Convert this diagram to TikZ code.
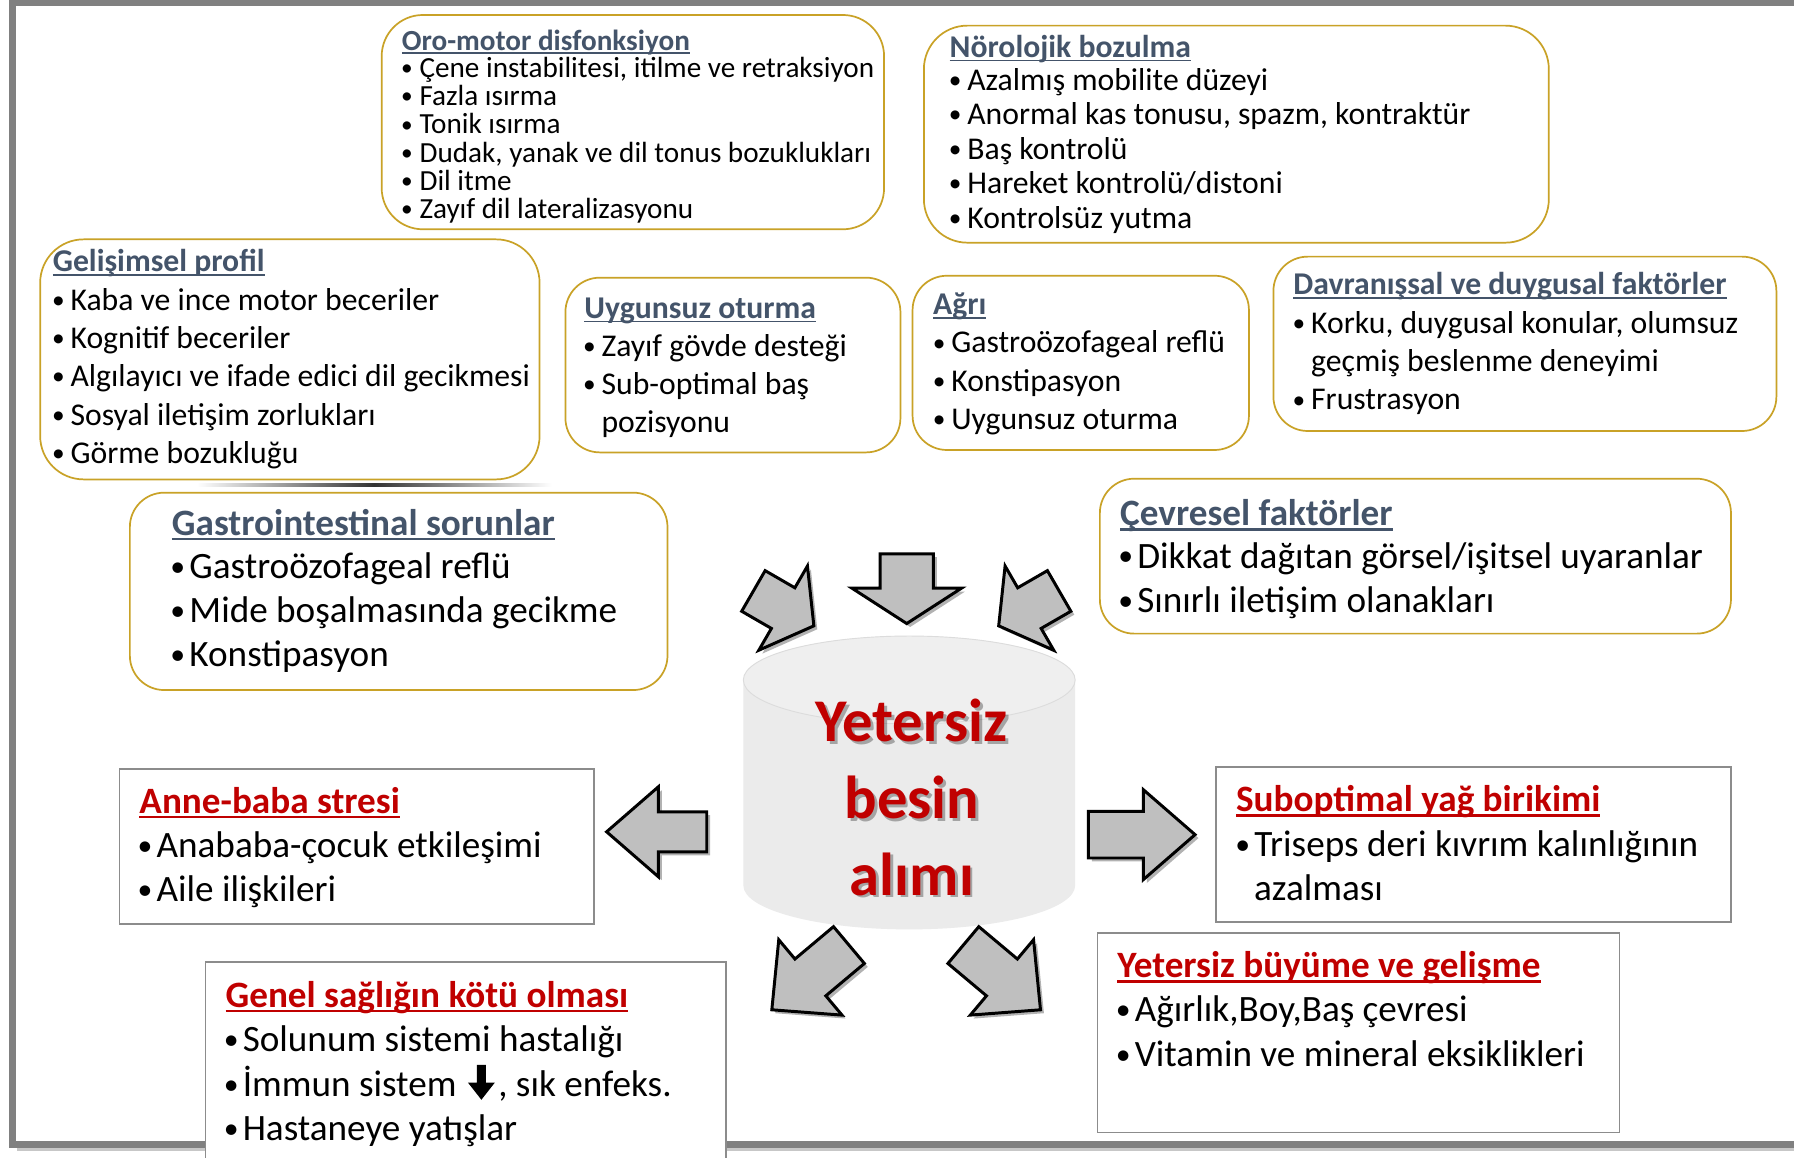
\documentclass[tikz,border=0pt]{standalone}
\usepackage{fontspec}
\setmainfont{Carlito}
\usetikzlibrary{shadows}
\definecolor{goldline}{HTML}{C9A227}
\definecolor{slate}{HTML}{44546A}
\definecolor{darkred}{HTML}{C00000}
\definecolor{boxgray}{HTML}{8C8C8C}
\definecolor{framegray}{HTML}{808080}
\definecolor{arrowfill}{HTML}{BFBFBF}
\definecolor{cylfill}{HTML}{EBEBEB}
\definecolor{cyledge}{HTML}{DCDCDC}
\newcommand\fsOro{\fontsize{25.5}{30}\selectfont}
\newcommand\fsMid{\fontsize{27.7}{33}\selectfont}
\newcommand\fsBig{\fontsize{32.5}{39}\selectfont}
\newcommand\fsCore{\fontsize{53}{64}\selectfont\bfseries}
\newcommand\bul{\makebox[14pt][l]{\hspace*{-0.08em}\raisebox{0.06em}{\scalebox{0.8}{•}}}}
\newcommand\blockarrow[7]{%
  \draw[barrow, shift={(#1,#2)}, rotate=#3]
    (0,#6) -- (#5,#6) -- (#5,#7) -- (#4,0) -- (#5,-#7) -- (#5,-#6) -- (0,-#6) -- cycle;}
\newcommand\uline[4]{%
  \draw[#2, line width=#4] ([yshift=-#3]#1.base west) -- ([yshift=-#3]#1.base east);}
\begin{document}
\begin{tikzpicture}[x=1pt,y=-1pt,
  goldbox/.style={draw=goldline, line width=1.5pt, fill=white, rounded corners=30pt, anchor=north west, inner sep=0pt, outer sep=0pt},
  graybox/.style={draw=boxgray, line width=1.5pt, fill=white, anchor=north west, inner sep=0pt, outer sep=0pt},
  txt/.style={anchor=base west, inner sep=0pt, outer sep=0pt, text=black},
  oroT/.style={txt, text=slate, font=\fsOro\bfseries},
  oroI/.style={txt, font=\fsOro},
  midT/.style={txt, text=slate, font=\fsMid\bfseries},
  midI/.style={txt, font=\fsMid},
  bigT/.style={txt, text=slate, font=\fsBig\bfseries},
  redT/.style={txt, text=darkred, font=\fsBig\bfseries},
  bigI/.style={txt, font=\fsBig},
  barrow/.style={draw=black, line width=2.6pt, fill=arrowfill, line join=miter,
    drop shadow={shadow xshift=3pt, shadow yshift=-3pt, opacity=0.3, fill=black}},
  coreT/.style={anchor=base, inner sep=0pt, outer sep=0pt, font=\fsCore, text=darkred},
  coreS/.style={anchor=base, inner sep=0pt, outer sep=0pt, font=\fsCore, text=black, text opacity=0.3}
]
\useasboundingbox (0,0) rectangle (1568,1012);
\fill[white] (0,0) rectangle (1568,1012);

% outer frame
\draw[black!22, line width=3pt] (15,1004.5) -- (1600,1004.5);
\draw[framegray, line width=6pt] (1600,2.5) -- (11,2.5) -- (11,1000) -- (1600,1000);

% dark streak under the developmental box
\shade[left color=white, right color=white, middle color=black!80] (172,422.8) rectangle (482,425.4);

% ---------- boxes ----------
\node[goldbox, rounded corners=36pt, minimum width=439.1pt, minimum height=187.3pt] (oro) at (333.6,13.1) {};
\node[goldbox, rounded corners=38pt, minimum width=546.2pt, minimum height=189.7pt] (neu) at (807.5,22.4) {};
\node[goldbox, rounded corners=38pt, minimum width=436.5pt, minimum height=209.8pt] (gel) at (35.1,209.2) {};
\node[goldbox, minimum width=292.8pt, minimum height=152.7pt] (uyg) at (494.2,242.7) {};
\node[goldbox, minimum width=294pt, minimum height=152.3pt] (agr) at (797.6,241) {};
\node[goldbox, minimum width=439.6pt, minimum height=152.4pt] (dav) at (1113,224.3) {};
\node[goldbox, minimum width=469.9pt, minimum height=172.5pt] (gas) at (113.5,430.6) {};
\node[goldbox, minimum width=551.6pt, minimum height=135.4pt] (cev) at (961.3,418.4) {};
\node[graybox, minimum width=414.9pt, minimum height=135.5pt] (ann) at (104.4,672.1) {};
\node[graybox, minimum width=450pt, minimum height=135.4pt] (sub) at (1062.9,670.6) {};
\node[graybox, minimum width=455.1pt, minimum height=200pt] (gen) at (179.6,841.1) {};
\node[graybox, minimum width=456.2pt, minimum height=174.4pt] (yet) at (959.2,815.3) {};

% ---------- Oro-motor ----------
\node[oroT] (oro-t) at (351.2,43.7) {Oro-motor disfonksiyon};
\uline{oro-t}{slate}{2.6pt}{1.5pt}
\node[oroI] (oro-1) at (352.7,67.6) {\bul Çene instabilitesi, itilme ve retraksiyon};
\node[oroI] (oro-2) at (352.7,92.3) {\bul Fazla ısırma};
\node[oroI] (oro-3) at (352.7,117.0) {\bul Tonik ısırma};
\node[oroI] (oro-4) at (352.7,141.7) {\bul Dudak, yanak ve dil tonus bozuklukları};
\node[oroI] (oro-5) at (352.7,166.4) {\bul Dil itme};
\node[oroI] (oro-6) at (352.7,191.1) {\bul Zayıf dil lateralizasyonu};

% ---------- Nörolojik ----------
\node[midT] (neu-t) at (830,50.1) {Nörolojik bozulma};
\uline{neu-t}{slate}{2.8pt}{1.7pt}
\node[midI] (neu-1) at (831.5,78.7) {\bul Azalmış mobilite düzeyi};
\node[midI] (neu-2) at (831.5,109.0) {\bul Anormal kas tonusu, spazm, kontraktür};
\node[midI] (neu-3) at (831.5,139.2) {\bul Baş kontrolü};
\node[midI] (neu-4) at (831.5,169.4) {\bul Hareket kontrolü/distoni};
\node[midI] (neu-5) at (831.5,199.6) {\bul Kontrolsüz yutma};

% ---------- Gelişimsel ----------
\node[midT] (gel-t) at (46.2,237.4) {Gelişimsel profil};
\uline{gel-t}{slate}{2.8pt}{1.7pt}
\node[midI] (gel-1) at (47.7,271) {\bul Kaba ve ince motor beceriler};
\node[midI] (gel-2) at (47.7,304.5) {\bul Kognitif beceriler};
\node[midI] (gel-3) at (47.7,338) {\bul Algılayıcı ve ifade edici dil gecikmesi};
\node[midI] (gel-4) at (47.7,371.5) {\bul Sosyal iletişim zorlukları};
\node[midI] (gel-5) at (47.7,405) {\bul Görme bozukluğu};

% ---------- Uygunsuz oturma ----------
\node[midT] (uyg-t) at (510.8,278.2) {Uygunsuz oturma};
\uline{uyg-t}{slate}{2.8pt}{1.7pt}
\node[midI] (uyg-1) at (511.8,311.2) {\bul Zayıf gövde desteği};
\node[midI] (uyg-2) at (511.8,344.7) {\bul Sub-optimal baş};
\node[midI] (uyg-3) at (525.8,378.2) {pozisyonu};

% ---------- Ağrı ----------
\node[midT] (agr-t) at (815.6,275.3) {Ağrı};
\uline{agr-t}{slate}{2.8pt}{1.7pt}
\node[midI] (agr-1) at (817.5,308.5) {\bul Gastroözofageal reflü};
\node[midI] (agr-2) at (817.5,342) {\bul Konstipasyon};
\node[midI] (agr-3) at (817.5,375.5) {\bul Uygunsuz oturma};

% ---------- Davranışsal ----------
\node[midT] (dav-t) at (1130.5,257.8) {Davranışsal ve duygusal faktörler};
\uline{dav-t}{slate}{2.8pt}{1.7pt}
\node[midI] (dav-1) at (1132,291.3) {\bul Korku, duygusal konular, olumsuz};
\node[midI] (dav-2) at (1146,324.8) {geçmiş beslenme deneyimi};
\node[midI] (dav-3) at (1132,358.3) {\bul Frustrasyon};

% ---------- Gastrointestinal ----------
\node[bigT] (gas-t) at (150.3,467.6) {Gastrointestinal sorunlar};
\uline{gas-t}{slate}{3.2pt}{2pt}
\node[bigI] (gas-1) at (151.6,505.5) {\bul Gastroözofageal reflü};
\node[bigI] (gas-2) at (151.6,544.1) {\bul Mide boşalmasında gecikme};
\node[bigI] (gas-3) at (151.6,582.7) {\bul Konstipasyon};

% ---------- Çevresel ----------
\node[bigT] (cev-t) at (979.1,459.7) {Çevresel faktörler};
\uline{cev-t}{slate}{3.2pt}{2pt}
\node[bigI] (cev-1) at (980,496.6) {\bul Dikkat dağıtan görsel/işitsel uyaranlar};
\node[bigI] (cev-2) at (980,535.5) {\bul Sınırlı iletişim olanakları};

% ---------- Anne-baba ----------
\node[redT] (ann-t) at (121.9,710.9) {Anne-baba stresi};
\uline{ann-t}{darkred}{3.2pt}{2pt}
\node[bigI] (ann-1) at (122.9,749.3) {\bul Anababa-çocuk etkileşimi};
\node[bigI] (ann-2) at (122.9,788.1) {\bul Aile ilişkileri};

% ---------- Suboptimal ----------
\node[redT] (sub-t) at (1080.3,709.5) {Suboptimal yağ birikimi};
\uline{sub-t}{darkred}{3.2pt}{2pt}
\node[bigI] (sub-1) at (1082.4,748.4) {\bul Triseps deri kıvrım kalınlığının};
\node[bigI] (sub-2) at (1096.1,786.9) {azalması};

% ---------- Genel sağlık ----------
\node[redT] (gen-t) at (197.2,880.5) {Genel sağlığın kötü olması};
\uline{gen-t}{darkred}{3.2pt}{2pt}
\node[bigI] (gen-1) at (198.2,919.2) {\bul Solunum sistemi hastalığı};
\node[bigI] (gen-2) at (198.2,958.2) {\bul İmmun sistem};
\fill[black] ([xshift=17.75pt,yshift=27.5pt]gen-2.base east) -- ([xshift=25.75pt,yshift=27.5pt]gen-2.base east)
  -- ([xshift=25.75pt,yshift=12pt]gen-2.base east) -- ([xshift=33.5pt,yshift=12pt]gen-2.base east)
  -- ([xshift=21.75pt,yshift=-3pt]gen-2.base east) -- ([xshift=10pt,yshift=12pt]gen-2.base east)
  -- ([xshift=17.75pt,yshift=12pt]gen-2.base east) -- cycle;
\node[bigI] (gen-2b) at ([xshift=36.5pt]gen-2.base east) {, sık enfeks.};
\node[bigI] (gen-3) at (198.2,997.2) {\bul Hastaneye yatışlar};

% ---------- Yetersiz büyüme ----------
\node[redT] (yet-t) at (976.7,854.6) {Yetersiz büyüme ve gelişme};
\uline{yet-t}{darkred}{3.2pt}{2pt}
\node[bigI] (yet-1) at (977.9,893.2) {\bul Ağırlık,Boy,Baş çevresi};
\node[bigI] (yet-2) at (977.9,932.1) {\bul Vitamin ve mineral eksiklikleri};

% ---------- central cylinder ----------
\fill[cylfill] (649.7,594.3) -- (649.7,773.9)
  arc[start angle=180, end angle=360, x radius=145pt, y radius=38.4pt]
  -- (939.7,594.3)
  arc[start angle=0, end angle=180, x radius=145pt, y radius=38.4pt] -- cycle;
\draw[cyledge, fill=cylfill!80!white, line width=0.8pt] (794.7,594.3) ellipse [x radius=145pt, y radius=38.4pt];

\node[coreS] (core-1s) at (799.3,650.7) {Yetersiz};
\node[coreS] (core-2s) at (799.5,717.7) {besin};
\node[coreS] (core-3s) at (799.5,784.8) {alımı};
\node[coreT] (core-1) at (796.8,648.2) {Yetersiz};
\node[coreT] (core-2) at (797,715.2) {besin};
\node[coreT] (core-3) at (797,782.3) {alımı};

% ---------- block arrows ----------
\blockarrow{792.5}{484}{-90}{61}{30}{23.3}{48}
\blockarrow{658.5}{516.5}{-30}{61}{30}{20.5}{42.5}
\blockarrow{925.7}{516.5}{-150}{61}{30}{20.5}{42.5}
\blockarrow{742}{826}{220}{88}{44}{21}{43}
\blockarrow{842}{826}{-40}{88}{44}{21}{43}
\blockarrow{617.7}{727}{180}{87.5}{42.3}{17.5}{39.3}
\blockarrow{951.3}{729.5}{0}{93.2}{48}{20.4}{39.3}
\end{tikzpicture}
\end{document}
